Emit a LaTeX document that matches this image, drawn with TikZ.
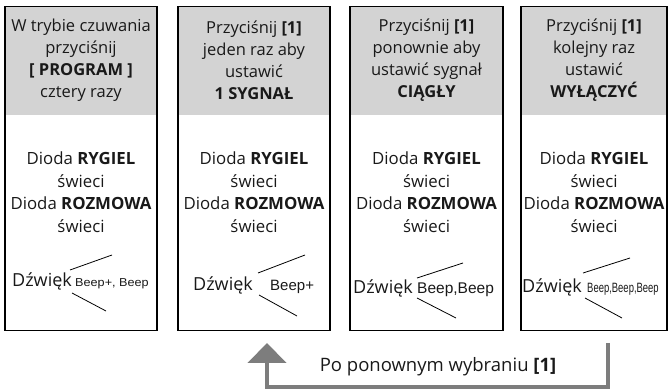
\documentclass[tikz,border=0pt]{standalone}
\usepackage{fontspec}
\setmainfont{Open Sans}
\newfontfamily\beepfont{Liberation Sans}
\newfontfamily\beepwide[FakeStretch=1.1]{Liberation Sans}
\newfontfamily\beepnarrow[FakeStretch=0.7]{Liberation Sans}
\usetikzlibrary{arrows.meta,positioning}
\definecolor{headgray}{RGB}{211,211,211}
\definecolor{loopgray}{RGB}{125,125,125}
\tikzset{
  every picture/.style = {
    x = 1pt,
    y = -1pt,
    text = black!90
  }
  ,
  frame/.style = {
    rectangle,
    draw,
    line width = 1.6pt,
    minimum height = 324pt,
    inner sep = 0pt
  }
  , % gray heads of the columns
  head/.style = {
    rectangle,
    fill = headgray,
    minimum height = 109pt,
    inner sep = 0pt,
    align = center,
    font = \fontsize{16.5}{22}\selectfont
  }
  , % diode texts
  lamp/.style = {
    align = center,
    font = \fontsize{16.8}{22.5}\selectfont
  }
  , % sound labels
  sound/.style = {
    inner sep = 0pt,
    anchor = base west,
    font = \fontsize{18}{20}\selectfont
  }
  ,
  beep/.style = {
    inner sep = 0pt
  }
  ,
  wave/.style = {
    line width = 0.8pt
  }
  ,
  back/.style = {
    draw = loopgray,
    line width = 4.5pt,
    -{Triangle[width=38pt,length=20pt]}
  }
}
\begin{document}
\begin{tikzpicture}
    \useasboundingbox (0,0) rectangle (670,390);
    % heads
    \node [head, minimum width = 152pt] (head1) at (81,60.5)
      {W trybie czuwania\\przyciśnij\\\textbf{[ PROGRAM ]}\\cztery razy};
    \node [head, minimum width = 152pt] (head2) at (254,60.5)
      {Przyciśnij \textbf{[1]}\\jeden raz aby\\ustawić\\\textbf{1 SYGNAŁ}};
    \node [head, minimum width = 153pt] (head3) at (426.5,60.5)
      {Przyciśnij \textbf{[1]}\\ponownie aby\\ustawić sygnał\\\textbf{CIĄGŁY}};
    \node [head, minimum width = 146pt] (head4) at (594,60.5)
      {Przyciśnij \textbf{[1]}\\kolejny raz\\ustawić\\\textbf{WYŁĄCZYĆ}};
    % frames
    \node [frame, anchor = north, minimum width = 152pt] (box1) at (head1.north) {};
    \node [frame, anchor = north, minimum width = 152pt] (box2) at (head2.north) {};
    \node [frame, anchor = north, minimum width = 153pt] (box3) at (head3.north) {};
    \node [frame, anchor = north, minimum width = 146pt] (box4) at (head4.north) {};
    % diodes
    \node [lamp] (lamp1) at (81,192) {Dioda \textbf{RYGIEL}\\świeci\\Dioda \textbf{ROZMOWA}\\świeci};
    \node [lamp] (lamp2) at (254,192) {Dioda \textbf{RYGIEL}\\świeci\\Dioda \textbf{ROZMOWA}\\świeci};
    \node [lamp] (lamp3) at (426.5,192) {Dioda \textbf{RYGIEL}\\świeci\\Dioda \textbf{ROZMOWA}\\świeci};
    \node [lamp] (lamp4) at (594,192) {Dioda \textbf{RYGIEL}\\świeci\\Dioda \textbf{ROZMOWA}\\świeci};
    % sounds
    \node [sound] (snd1) at (12,287) {Dźwięk};
    \node [sound] (snd2) at (193,291) {Dźwięk};
    \node [sound] (snd3) at (353,294) {Dźwięk};
    \node [sound] (snd4) at (522,293) {Dźwięk};
    \node [beep, base right = 3pt of snd1, font = \beepwide\fontsize{11.5}{14}\selectfont] (beep1) {Beep+, Beep};
    \node [beep, base right = 17pt of snd2, font = \beepfont\fontsize{15}{17}\selectfont] (beep2) {Beep+};
    \node [beep, base right = 4pt of snd3, font = \beepfont\fontsize{15.5}{17}\selectfont] (beep3) {Beep,Beep};
    \node [beep, base right = 5pt of snd4, font = \beepnarrow\fontsize{13.5}{16}\selectfont] (beep4) {Beep,Beep,Beep};
    \draw [wave] (70,270) -- (112,255) (72,293) -- (106,311);
    \draw [wave] (258,273) -- (305,255) (259,295) -- (297,316);
    \draw [wave] (417,278) -- (463,263) (417,298) -- (456,318);
    \draw [wave] (583,273) -- (630,258) (585,298) -- (622,318);
    % way back
    \coordinate (loopfrom) at (608,343);
    \coordinate (loopto) at (267,343);
    \draw [back] (loopfrom) -- ++(0,44) -| (loopto);
    \node [font = \fontsize{18.5}{20}\selectfont] (loopnote) at (438,367) {Po ponownym wybraniu \textbf{[1]}};
\end{tikzpicture}
\end{document}
